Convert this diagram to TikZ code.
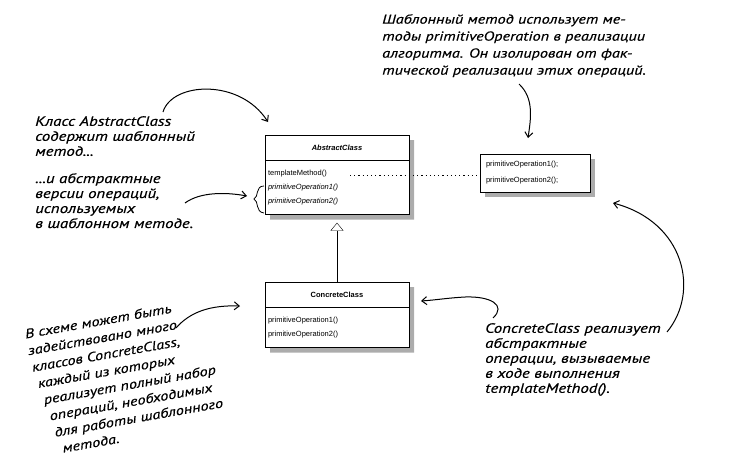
\documentclass[tikz,border=0pt]{standalone}
\usepackage{fontspec}
\setmainfont{Liberation Sans}
\newfontfamily\hand{PT Sans}[FakeStretch=1.25,FakeBold=0.4]
\usetikzlibrary{arrows.meta,shapes.multipart,shadows}
\newcommand{\umlfont}{\fontsize{7.5}{14}\selectfont}
\newcommand{\abstop}[1]{\textit{#1}}
\newcommand{\umltitle}[1]{\makebox[\hsize]{\textbf{#1}}}

\begin{document}
\begin{tikzpicture}[x=1pt,y=-1pt,
  note/.style={font={\hand\itshape\fontsize{13.5}{15}\selectfont},align=left,inner sep=0pt},
  umlclass/.style={rectangle split,rectangle split parts=2,draw,fill=white,
    text width=138pt,inner xsep=3pt,inner ysep=9.5pt,font=\umlfont,
    drop shadow={shadow xshift=5pt,shadow yshift=-5pt,fill=gray!65,opacity=1}},
  opsbox/.style={draw,fill=white,text width=98pt,inner xsep=6pt,minimum height=38pt,
    align=left,font={\fontsize{7.5}{16}\selectfont},
    drop shadow={shadow xshift=5pt,shadow yshift=-5pt,fill=gray!65,opacity=1}},
  pen/.style={line width=1pt,-{Straight Barb[length=5pt,width=8pt]}}]
  \useasboundingbox (0,0) rectangle (744,466);

  % classes
  \node[umlclass,anchor=north] (abstract) at (337,135)
    {\umltitle{\textit{AbstractClass}}\nodepart{two}templateMethod()\\
     \abstop{primitiveOperation1()}\\\abstop{primitiveOperation2()}};
  \node[umlclass,anchor=north] (concrete) at (337,282)
    {\umltitle{ConcreteClass}\nodepart{two}primitiveOperation1()\\primitiveOperation2()};
  \node[opsbox] (ops) at (535,173) {primitiveOperation1();\\primitiveOperation2();};

  \draw[-{Triangle[open,length=8pt,width=13pt]},shorten >=8pt] (concrete.north) -- (abstract.south);
  \coordinate (tmend) at (350,175);
  \draw[line width=0.8pt,dash pattern=on 1.2pt off 3pt] (tmend) -- (tmend -| ops.west);

  % notes
  \node[note,anchor=north west,font={\hand\itshape\fontsize{13}{17}\selectfont}] (noteuses) at (382,14)
    {Шаблонный метод использует ме-\\тоды primitiveOperation в реализации\\алгоритма. Он изолирован от фак-\\тической реализации этих операций.};
  \node[note,anchor=north west] (noteclass) at (35,116) {Класс AbstractClass\\содержит шаблонный\\метод...};
  \node[note,anchor=north west] (noteabs) at (35,173) {...и абстрактные\\версии операций,\\используемых\\в шаблонном методе.};
  \node[note,anchor=north west] (noteimpl) at (485,323)
    {ConcreteClass реализует\\абстрактные\\операции, вызываемые\\в ходе выполнения\\templateMethod().};
  \node[note,anchor=north west,rotate=10,font={\hand\itshape\fontsize{13}{17}\selectfont}] (notemany) at (24,329)
    {В схеме может быть\\задействовано много\\\hspace{1pt}классов ConcreteClass,\\\hspace{4pt}каждый из которых\\
     \hspace{7pt}реализует полный набор\\\hspace{10pt}операций, необходимых\\\hspace{12pt}для работы шаблонного\\\hspace{17pt}метода.};

  % hand drawn arrows
  \coordinate (fromclass) at (163,112);
  \coordinate (toclass) at (268,122);
  \draw[pen] (fromclass) .. controls (172,82) and (240,78) .. (toclass);
  \coordinate (fromabs) at (185,203);
  \coordinate (tobrace) at (247,196);
  \draw[pen] (fromabs) .. controls (200,192) and (225,192) .. (tobrace);
  \draw[line width=0.8pt] (264,186) .. controls (255,186) and (259,197) .. (254,199)
    .. controls (259,201) and (255,212) .. (264,213);
  \coordinate (fromuses) at (519,84);
  \coordinate (toops) at (528,138);
  \draw[pen] (fromuses) .. controls (534,98) and (531,118) .. (toops);
  \coordinate (fromimpl) at (667,332);
  \coordinate (toopsb) at (613,203);
  \draw[pen] (fromimpl) .. controls (700,292) and (685,222) .. (toopsb);
  \coordinate (fromimplb) at (493,318);
  \coordinate (toconcrete) at (421,301);
  \draw[pen] (fromimplb) .. controls (507,305) and (490,296) .. (465,297)
    .. controls (447,298) and (436,300) .. (toconcrete);
  \coordinate (frommany) at (176,328);
  \coordinate (toconcreteb) at (240,306);
  \draw[pen] (frommany) .. controls (190,312) and (210,305) .. (toconcreteb);
\end{tikzpicture}
\end{document}
